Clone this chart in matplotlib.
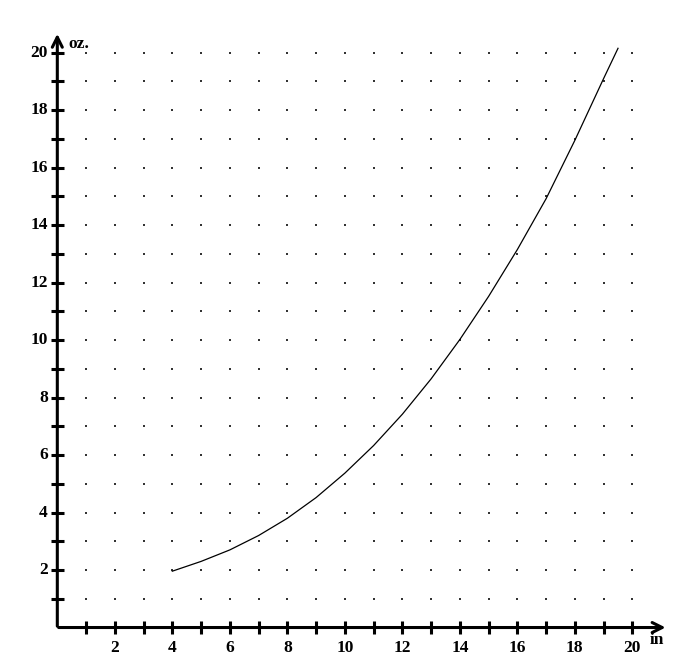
import matplotlib
matplotlib.use("Agg")
import matplotlib.pyplot as plt
import numpy as np

# data (length in inches, weight in ounces)
length_in = [4, 5, 6, 7, 8, 9, 10, 11, 12, 13, 14, 15, 16, 17, 18, 19, 19.5]
weight_oz = [1.96, 2.30, 2.70, 3.20, 3.80, 4.52, 5.37, 6.33, 7.42, 8.65, 10.02,
             11.52, 13.15, 14.92, 16.95, 19.1, 20.15]

x_ticks = list(range(1, 21))
y_ticks = list(range(1, 21))
x_labels = [2, 4, 6, 8, 10, 12, 14, 16, 18, 20]
y_labels = [2, 4, 6, 8, 10, 12, 14, 16, 18, 20]

fig = plt.figure(figsize=(6.83, 6.60), dpi=100)
ax = fig.add_axes([0, 0, 1, 1])
ax.set_xlim(-1.993, 21.76)
ax.set_ylim(-1.13, 21.83)
ax.axis('off')

font = dict(family='Liberation Serif', fontsize=12.5, fontweight='bold', color='black')

# dot grid
gx, gy = np.meshgrid(x_ticks, y_ticks)
ax.scatter(gx.ravel(), gy.ravel(), s=1.6, marker='s', color='#333333', linewidths=0)

# axes with arrows
ax.annotate('', xy=(21.25, 0), xytext=(-0.05, 0),
            arrowprops=dict(arrowstyle='->', lw=2.2, color='black', mutation_scale=18))
ax.annotate('', xy=(0, 20.75), xytext=(0, -0.05),
            arrowprops=dict(arrowstyle='->', lw=2.2, color='black', mutation_scale=18))

# tick marks
for t in x_ticks:
    ax.plot([t, t], [-0.21, 0.21], color='black', lw=2.2, solid_capstyle='butt')
for t in y_ticks:
    ax.plot([-0.22, 0.22], [t, t], color='black', lw=2.2, solid_capstyle='butt')

# tick labels
for t in x_labels:
    ax.text(t, -0.72, str(t), ha='center', va='center', **font)
for t in y_labels:
    ax.text(-0.33, t, str(t), ha='right', va='center', **font)

ax.text(0.38, 20.3, 'oz.', ha='left', va='center', **font)
ax.text(20.6, -0.45, 'in', ha='left', va='center', **font)

# curve
ax.plot(length_in, weight_oz, color='black', lw=0.9)

fig.savefig('out.png', dpi=100)
